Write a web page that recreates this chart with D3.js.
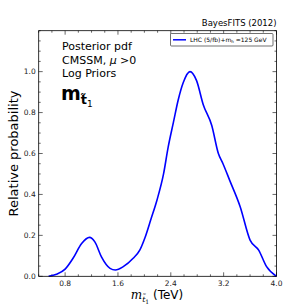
<!DOCTYPE html>
<html><head><meta charset="utf-8">
<script src="https://cdn.jsdelivr.net/npm/d3@7"></script>
<style>body{margin:0;background:#fff}svg{display:block}text{font-family:"DejaVu Sans",sans-serif}</style>
</head><body>
<script>
const massTeV = [0.55,0.67,0.80,0.92,1.05,1.17,1.25,1.35,1.48,1.56,1.68,1.83,1.93,2.01,2.10,2.19,2.29,2.36,2.44,2.51,2.59,2.69,2.79,2.89,3.02,3.12,3.19,3.29,3.45,3.60,3.73,3.85,4.0];
const relProb = [0,0.01,0.035,0.088,0.16,0.19,0.168,0.095,0.039,0.031,0.047,0.088,0.128,0.19,0.28,0.372,0.50,0.631,0.753,0.859,0.948,1.0,0.956,0.84,0.737,0.60,0.55,0.47,0.34,0.177,0.128,0.047,0];
const xTicks = [0.8,1.6,2.4,3.2,4.0];
const yTicks = [0.0,0.2,0.4,0.6,0.8,1.0];

const W=307,H=307, L=38.7, R=276.5, T=30.7, B=276.3;
const svg=d3.select("body").append("svg").attr("width",W).attr("height",H);
const x=d3.scaleLinear().domain([0.4,4.0]).range([L,R]);
const y=d3.scaleLinear().domain([0,1.2]).range([B,T]);

// minor ticks
const xMinor=d3.range(0.4,4.001,0.2).filter(v=>!xTicks.some(t=>Math.abs(t-v)<1e-6));
const yMinor=d3.range(0,1.2001,0.05).filter(v=>!yTicks.some(t=>Math.abs(t-v)<1e-6));
const g=svg.append("g").attr("stroke","#000").attr("stroke-width",0.6);
xTicks.forEach(v=>{g.append("line").attr("x1",x(v)).attr("x2",x(v)).attr("y1",B).attr("y2",B-4);
  g.append("line").attr("x1",x(v)).attr("x2",x(v)).attr("y1",T).attr("y2",T+4);});
xMinor.forEach(v=>{g.append("line").attr("x1",x(v)).attr("x2",x(v)).attr("y1",B).attr("y2",B-2);
  g.append("line").attr("x1",x(v)).attr("x2",x(v)).attr("y1",T).attr("y2",T+2);});
yTicks.forEach(v=>{g.append("line").attr("y1",y(v)).attr("y2",y(v)).attr("x1",L).attr("x2",L+4);
  g.append("line").attr("y1",y(v)).attr("y2",y(v)).attr("x1",R).attr("x2",R-4);});
yMinor.forEach(v=>{g.append("line").attr("y1",y(v)).attr("y2",y(v)).attr("x1",L).attr("x2",L+2);
  g.append("line").attr("y1",y(v)).attr("y2",y(v)).attr("x1",R).attr("x2",R-2);});

svg.selectAll(".xl").data(xTicks).enter().append("text").attr("x",d=>x(d)).attr("y",B+9.2)
  .attr("text-anchor","middle").attr("font-size",7.5).attr("fill","#222").text(d=>d.toFixed(1));
svg.selectAll(".yl").data(yTicks).enter().append("text").attr("x",L-3).attr("y",d=>y(d)+2.7)
  .attr("text-anchor","end").attr("font-size",7.5).attr("fill","#222").text(d=>d.toFixed(1));

// curve
const line=d3.line().x((d,i)=>x(massTeV[i])).y(d=>y(d)).curve(d3.curveMonotoneX);
svg.append("path").datum(relProb).attr("d",line).attr("fill","none").attr("stroke","#0000ff").attr("stroke-width",1.6);

// frame
svg.append("rect").attr("x",L).attr("y",T).attr("width",R-L).attr("height",B-T).attr("fill","none").attr("stroke","#000").attr("stroke-width",0.8);

// title
svg.append("text").attr("x",R).attr("y",26).attr("text-anchor","end").attr("font-size",8.5).text("BayesFITS (2012)");

// legend
svg.append("rect").attr("x",170.5).attr("y",33.5).attr("width",102.5).attr("height",12.5).attr("fill","#fff").attr("stroke","#333").attr("stroke-width",0.7).attr("rx",1);
svg.append("line").attr("x1",173).attr("x2",186).attr("y1",39.8).attr("y2",39.8).attr("stroke","#0000ff").attr("stroke-width",1.5);
const lt=svg.append("text").attr("x",190).attr("y",42).attr("font-size",6);
lt.append("tspan").text("LHC (5/fb)+m");
lt.append("tspan").attr("font-size",4).attr("dy",1.2).text("h");
lt.append("tspan").attr("dy",-1.2).text(" \u2243125 GeV");

// annotations
svg.append("text").attr("x",62).attr("y",50).attr("font-size",11).text("Posterior pdf");
const c=svg.append("text").attr("x",62).attr("y",63.5).attr("font-size",11);
c.append("tspan").text("CMSSM, ");
c.append("tspan").attr("font-style","italic").text("\u03bc");
c.append("tspan").text(" >0");
svg.append("text").attr("x",62).attr("y",77).attr("font-size",11).text("Log Priors");
const m=svg.append("text").attr("x",61).attr("y",100).attr("font-family","DejaVu Serif").attr("font-weight","bold").attr("font-size",19);
m.append("tspan").text("m");
m.append("tspan").attr("font-size",13).attr("dy",4).text("t\u0303");
m.append("tspan").attr("font-size",9).attr("font-weight","normal").attr("dy",3).text("1");

// axis labels
svg.append("text").attr("transform",`translate(18,${(T+B)/2}) rotate(-90)`).attr("text-anchor","middle").attr("font-size",13).text("Relative probability");
const xl=svg.append("text").attr("x",157).attr("y",299).attr("text-anchor","middle").attr("font-size",12);
xl.append("tspan").attr("font-family","DejaVu Serif").attr("font-style","italic").text("m");
xl.append("tspan").attr("font-family","DejaVu Serif").attr("font-style","italic").attr("font-size",8).attr("dy",3).text("t\u0303");
xl.append("tspan").attr("font-family","DejaVu Serif").attr("font-size",6).attr("dy",2).text("1");
xl.append("tspan").attr("dy",-5).text(" (TeV)");
</script>
</body></html>
